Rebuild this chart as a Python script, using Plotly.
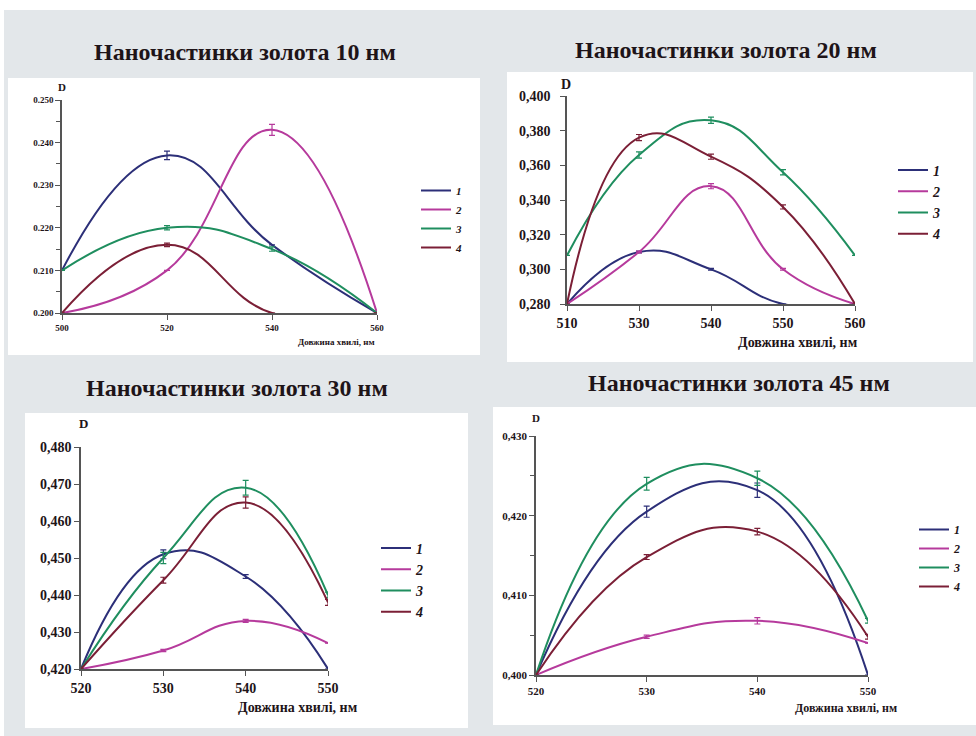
import plotly.graph_objects as go

W, H = 976, 736


def px(x):
    return x / W


def py(y):
    return 1 - y / H


# ---------------- data ----------------
series_names = ["1", "2", "3", "4"]
panel_titles = ["Наночастинки золота 10 нм", "Наночастинки золота 20 нм",
                "Наночастинки золота 30 нм", "Наночастинки золота 45 нм"]
x_title = "Довжина хвилі, нм"

wl_10 = ["500", "520", "540", "560"]
d10_1 = [0.210, 0.237, 0.216, 0.200]
d10_2 = [0.200, 0.210, 0.243, 0.200]
d10_3 = [0.210, 0.220, 0.215, 0.200]
d10_4 = [0.200, 0.216, 0.200, 0.200]
e10_1 = [0, 0.0010, 0, 0]
e10_2 = [0, 0, 0.0013, 0]
e10_3 = [0, 0.0005, 0.0005, 0]
e10_4 = [0, 0.0004, 0, 0]
y10_ticks = [0.200, 0.210, 0.220, 0.230, 0.240, 0.250]
y10_labels = ["0.200", "0.210", "0.220", "0.230", "0.240", "0.250"]

wl_20 = ["510", "530", "540", "550", "560"]
d20_1 = [0.280, 0.310, 0.300, 0.280, 0.280]
d20_2 = [0.280, 0.310, 0.348, 0.300, 0.280]
d20_3 = [0.308, 0.366, 0.386, 0.356, 0.308]
d20_4 = [0.280, 0.376, 0.365, 0.336, 0.280]
e20_1 = [0, 0.0005, 0.0005, 0, 0]
e20_2 = [0, 0.0005, 0.0015, 0.0005, 0]
e20_3 = [0, 0.0018, 0.0018, 0.0015, 0]
e20_4 = [0, 0.0018, 0.0015, 0.0012, 0]
y20_ticks = [0.280, 0.300, 0.320, 0.340, 0.360, 0.380, 0.400]
y20_labels = ["0,280", "0,300", "0,320", "0,340", "0,360", "0,380", "0,400"]

wl_30 = ["520", "530", "540", "550"]
d30_1 = [0.420, 0.451, 0.445, 0.420]
d30_2 = [0.420, 0.425, 0.433, 0.427]
d30_3 = [0.420, 0.450, 0.469, 0.440]
d30_4 = [0.420, 0.444, 0.465, 0.438]
e30_1 = [0, 0.0012, 0.0005, 0]
e30_2 = [0, 0.0003, 0.0004, 0]
e30_3 = [0, 0.0015, 0.0020, 0.0008]
e30_4 = [0, 0.0008, 0.0015, 0.0008]
y30_ticks = [0.420, 0.430, 0.440, 0.450, 0.460, 0.470, 0.480]
y30_labels = ["0,420", "0,430", "0,440", "0,450", "0,460", "0,470", "0,480"]

wl_45 = ["520", "530", "540", "550"]
d45_1 = [0.400, 0.4205, 0.4232, 0.400]
d45_2 = [0.400, 0.4048, 0.4068, 0.4040]
d45_3 = [0.400, 0.4240, 0.4247, 0.4068]
d45_4 = [0.400, 0.4148, 0.4180, 0.4048]
e45_1 = [0, 0.0007, 0.0009, 0]
e45_2 = [0, 0.0002, 0.0004, 0]
e45_3 = [0, 0.0008, 0.0009, 0.0003]
e45_4 = [0, 0.0003, 0.0004, 0.0003]
y45_ticks = [0.400, 0.410, 0.420, 0.430]
y45_labels = ["0,400", "0,410", "0,420", "0,430"]

# ---------------- styling ----------------
COLORS = ["#2c2f78", "#b63a9c", "#1f8e5f", "#7b1f36"]
SERIF = "Liberation Serif, Times New Roman, serif"
BG = "#e3e7ea"
AXC = "#555555"
TXT = "#1e1418"

panels = [
    dict(cats=wl_10, ys=[d10_1, d10_2, d10_3, d10_4], es=[e10_1, e10_2, e10_3, e10_4],
         yr=[0.200, 0.250], yt=y10_ticks, yl=y10_labels, minor=0.005, ysoff=0,
         box=(8, 78, 480, 355), plot=(62, 100, 377, 313), title=(245, 52),
         tfs=9, lfs=11, legend=(416, 219), xt=(377, 342, 9), d=(62, 87, 11)),
    dict(cats=wl_20, ys=[d20_1, d20_2, d20_3, d20_4], es=[e20_1, e20_2, e20_3, e20_4],
         yr=[0.280, 0.400], yt=y20_ticks, yl=y20_labels, minor=None, ysoff=7,
         box=(507, 72, 973, 362), plot=(567, 96, 855, 304), title=(726, 50),
         tfs=14, lfs=14, legend=(893, 202), xt=(860, 342, 14), d=(566, 85, 14)),
    dict(cats=wl_30, ys=[d30_1, d30_2, d30_3, d30_4], es=[e30_1, e30_2, e30_3, e30_4],
         yr=[0.420, 0.480], yt=y30_ticks, yl=y30_labels, minor=None, ysoff=0,
         box=(25, 413, 468, 728), plot=(81, 447, 328, 669), title=(237, 388),
         tfs=14, lfs=14, legend=(376, 580), xt=(360, 707, 14), d=(83, 423, 13)),
    dict(cats=wl_45, ys=[d45_1, d45_2, d45_3, d45_4], es=[e45_1, e45_2, e45_3, e45_4],
         yr=[0.400, 0.430], yt=y45_ticks, yl=y45_labels, minor=0.005, ysoff=0,
         box=(493, 407, 976, 725), plot=(536, 436, 868, 675), title=(739, 383),
         tfs=11, lfs=12, legend=(914, 558), xt=(899, 708, 12), d=(536, 418, 11)),
]

fig = go.Figure()
shapes = [
    dict(type="rect", xref="paper", yref="paper", x0=0, x1=1, y0=py(10), y1=1,
         fillcolor="white", line_width=0, layer="below"),
    dict(type="rect", xref="paper", yref="paper", x0=0, x1=px(4), y0=0, y1=1,
         fillcolor="white", line_width=0, layer="below"),
]
annotations = []
layout_axes = {}

for i, p in enumerate(panels):
    k = "" if i == 0 else str(i + 1)
    xa, ya = "x" + k, "y" + k
    lg = "legend" + k
    for j in range(4):
        fig.add_trace(go.Scatter(
            x=p["cats"], y=p["ys"][j], xaxis=xa, yaxis=ya, name=series_names[j],
            mode="lines", line=dict(color=COLORS[j], width=2, shape="spline", smoothing=1.3),
            error_y=dict(type="data", array=p["es"][j], visible=True, color=COLORS[j],
                         thickness=1.2, width=3),
            legend=lg, showlegend=True,
        ))
    x0, y0, x1, y1 = p["plot"]
    n = len(p["cats"])
    layout_axes["xaxis" + k] = dict(
        domain=[px(x0), px(x1)], anchor=ya, type="category", range=[0, n - 1],
        showline=True, linecolor=AXC, linewidth=1.5, ticks="outside", ticklen=5,
        tickcolor=AXC, showgrid=False, zeroline=False, automargin=False,
        tickfont=dict(family=SERIF, size=p["tfs"], color=TXT, weight="bold"),
    )
    yax = dict(
        domain=[py(y1), py(y0)], anchor=xa, range=p["yr"],
        tickvals=p["yt"], ticktext=p["yl"], ticklabelstandoff=p["ysoff"],
        showline=True, linecolor=AXC, linewidth=1.5, ticks="outside", ticklen=5,
        tickcolor=AXC, showgrid=False, zeroline=False, automargin=False,
        tickfont=dict(family=SERIF, size=p["tfs"], color=TXT, weight="bold"),
    )
    if p["minor"]:
        yax["minor"] = dict(dtick=p["minor"], ticks="outside", ticklen=4,
                            tickcolor=AXC, showgrid=False)
    layout_axes["yaxis" + k] = yax

    bx0, by0, bx1, by1 = p["box"]
    shapes.append(dict(type="rect", xref="paper", yref="paper",
                       x0=px(bx0), x1=px(bx1), y0=py(by1), y1=py(by0),
                       fillcolor="white", line_width=0, layer="below"))
    tx, ty = p["title"]
    annotations.append(dict(text=panel_titles[i], x=px(tx), y=py(ty), xref="paper",
                            yref="paper", xanchor="center", yanchor="middle",
                            showarrow=False,
                            font=dict(family=SERIF, size=24, color=TXT, weight="bold")))
    ax_, ay_, afs = p["xt"]
    annotations.append(dict(text=x_title, x=px(ax_), y=py(ay_), xref="paper",
                            yref="paper", xanchor="right", yanchor="middle",
                            showarrow=False,
                            font=dict(family=SERIF, size=afs, color=TXT, weight="bold")))
    dx, dy, dfs = p["d"]
    annotations.append(dict(text="D", x=px(dx), y=py(dy), xref="paper", yref="paper",
                            xanchor="center", yanchor="middle", showarrow=False,
                            font=dict(family=SERIF, size=dfs, color=TXT, weight="bold")))
    lx, ly = p["legend"]
    layout_axes[lg] = dict(
        x=px(lx), y=py(ly), xref="paper", yref="paper", xanchor="left", yanchor="middle",
        bgcolor="rgba(0,0,0,0)", borderwidth=0, itemwidth=30,
        font=dict(family=SERIF, size=p["lfs"], color=TXT, weight="bold", style="italic"),
    )

fig.update_layout(
    width=W, height=H, margin=dict(l=0, r=0, t=0, b=0, autoexpand=False),
    paper_bgcolor=BG, plot_bgcolor="rgba(0,0,0,0)",
    shapes=shapes, annotations=annotations, **layout_axes,
)

fig.write_html("out.html", post_script="document.body.style.margin='0px';",
               config={"displayModeBar": False})
